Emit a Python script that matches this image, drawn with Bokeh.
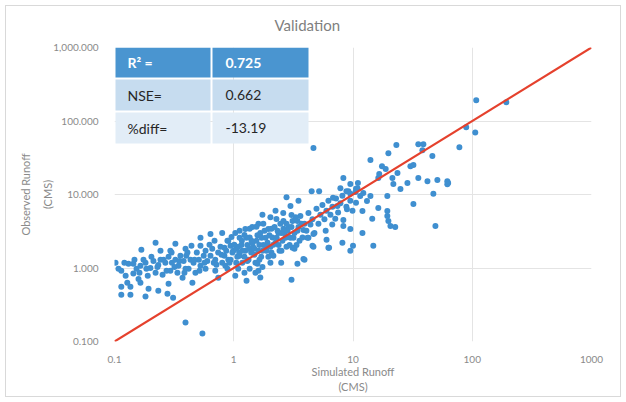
from bokeh.plotting import figure
from bokeh.models import FixedTicker, BoxAnnotation, Label, Range1d
from bokeh.embed import file_html
from bokeh.resources import INLINE

# Simulated (x) vs observed (y) runoff, CMS
sim_runoff = [
    0.102, 0.114, 0.131, 0.144, 0.168, 0.221, 0.324, 0.442, 0.526, 0.638, 0.80,
    0.114, 0.136, 0.114, 0.136, 0.165, 0.182, 0.193, 0.233, 0.278, 0.31, 0.284,
    0.372, 0.45, 0.742, 0.394, 0.546,
    0.153, 0.165, 0.182, 0.20, 0.212, 0.233, 0.243, 0.267, 0.284, 0.303, 0.324,
    0.344, 0.357, 0.38, 0.40, 0.418, 0.434, 0.46, 0.49, 0.51, 0.526, 0.56, 0.58,
    0.60, 0.638, 0.66, 0.68, 0.70, 0.74, 0.774, 0.80, 0.835, 0.865, 0.90, 0.94,
    0.975, 0.124, 0.144, 0.159, 0.19, 0.221, 0.253, 0.294, 0.337, 0.394, 0.477,
    0.58, 0.70, 0.85, 0.175, 0.243, 0.294, 0.394, 0.526, 0.69, 0.90,
    0.94, 0.99, 1.05, 1.09, 1.12, 1.17, 1.18, 1.25, 1.30, 1.33, 1.36, 1.40, 1.45,
    1.52, 1.55, 1.61, 1.67, 1.70, 1.77, 1.85, 1.88, 1.95, 2.03, 2.11, 2.15, 2.24,
    2.33, 2.42, 2.46, 2.56, 2.66, 2.77, 2.88, 2.99, 3.11, 3.23, 3.36, 3.49, 3.62,
    3.77, 3.92, 4.07, 4.23, 4.40, 4.57, 4.75, 4.94, 5.13, 5.33, 5.54, 5.76, 5.99,
    6.22, 6.47, 6.72, 7.2, 7.5, 7.84, 8.15, 8.8, 9.15, 9.5, 9.9, 10.6,
    1.09, 1.23, 1.36, 1.52, 1.74, 2.03, 1.03, 1.28, 1.61,
    1.03, 1.12, 1.25, 1.43, 1.61, 1.74, 2.03, 2.24, 2.6, 2.99, 3.49, 2.77,
    1.67, 3.05, 2.5, 3.42, 3.92, 1.58, 3.11, 4.57, 6.22, 8.15, 9.5, 5.9, 6.7,
    8.3, 4.15, 4.66,
    1.05, 1.11, 1.16, 1.23, 1.28, 1.35, 1.43, 1.49, 1.58, 1.64, 1.74, 1.81, 1.92,
    1.99, 2.07, 2.2, 2.29, 2.38, 2.51, 2.61, 2.72, 2.83, 2.94, 3.05, 3.17, 3.30,
    3.42, 3.56, 3.70, 3.84,
    4.66, 108, 193, 89, 106, 78, 23.1, 19.8, 14.0, 35.3, 38.9, 38.2, 46.3, 17.5,
    16.6, 16.3, 21.4, 23.6, 30.3, 32.1, 35.3, 42.1, 51, 61.8, 62.8, 61.8, 28.6,
    25.0, 21.8, 19.4, 16.3, 32.1, 47.2, 49.1, 19.4, 19.4, 19.8, 20.6, 22.6, 14.5,
    12.0, 14.8, 10.0, 8.3, 7.84, 8.8, 9.5, 10.5, 11.5, 12.2, 6.8, 7.4, 8.9, 7.1,
    8.3, 9.5, 12.0, 10.6, 13.1, 14.0, 10.9, 9.5, 11.0, 4.5, 5.2, 3.84, 6.3, 4.66,
    6.0, 4.23, 18.8,
    0.836, 0.885, 0.92, 0.958, 1.01, 1.07, 1.12, 1.18, 1.23, 1.30, 1.36, 1.41,
    1.49, 1.55, 1.64, 1.71, 1.77, 1.88, 1.95, 2.07, 2.15, 2.28, 2.37, 2.51, 2.61,
    2.77, 2.88, 3.05, 3.23, 3.42,
    0.108, 0.121, 0.128, 0.147, 0.162, 0.185, 0.204, 0.229, 0.258, 0.273, 0.301,
    0.318, 0.351, 0.386, 0.409, 0.469, 0.516, 0.568, 0.626, 0.716, 0.789, 0.885,
]
obs_runoff = [
    1.18, 0.92, 1.14, 1.14, 1.77, 2.2, 2.13, 2.0, 2.57, 2.91, 3.0,
    0.557, 0.557, 0.434, 0.434, 0.63, 0.41, 0.523, 0.49, 0.448, 0.395, 0.61,
    0.738, 0.63, 0.738, 0.181, 0.128,
    0.98, 1.07, 1.18, 1.0, 1.25, 1.1, 1.3, 1.18, 1.42, 1.18, 1.3,
    1.07, 1.47, 1.25, 1.47, 0.98, 1.3, 1.18, 1.62, 1.3, 1.07, 1.47, 1.71,
    1.25, 1.47, 1.83, 1.18, 1.3, 1.62, 1.95, 1.18, 1.47, 1.71, 1.3, 2.0,
    1.62, 0.785, 0.84, 0.71, 0.785, 0.86, 0.81, 0.92, 0.86, 0.98, 0.86,
    0.98, 0.92, 1.07, 1.3, 1.71, 1.71, 1.83, 2.0, 2.34, 2.34,
    1.3, 1.71, 1.18, 1.95, 1.47, 2.34, 1.18, 1.71, 2.06, 1.3, 2.6, 1.62, 1.95,
    1.18, 2.34, 1.71, 3.0, 1.42, 2.06, 2.57, 1.71, 3.4, 1.95, 2.6, 1.47, 2.2,
    3.2, 1.71, 4.0, 2.34, 3.0, 1.95, 3.6, 2.57, 4.37, 3.0, 2.06, 3.6, 5.1,
    2.6, 4.0, 3.2, 5.6, 3.9, 4.6, 3.0, 6.4, 4.0, 5.3, 7.2, 4.6, 6.0,
    8.2, 5.3, 6.8, 8.8, 5.7, 7.6, 9.6, 6.8, 11.1, 8.2, 6.0, 12.0,
    0.98, 0.86, 0.98, 0.86, 1.03, 1.18, 0.785, 0.67, 0.92,
    3.0, 2.57, 3.4, 3.6, 4.0, 5.3, 4.9, 6.0, 5.6, 7.0, 8.2, 9.2,
    0.74, 0.69, 1.18, 1.14, 1.29, 1.14, 1.88, 2.0, 1.88, 2.2, 1.71, 3.2, 3.9,
    4.5, 2.57, 2.9,
    1.83, 1.62, 2.06, 1.42, 2.57, 1.83, 2.2, 1.52, 2.8, 2.06, 1.71, 3.2, 2.2,
    2.8, 1.62, 3.6, 2.57, 2.06, 3.0, 4.37, 2.57, 3.2, 2.06, 3.6, 2.57, 4.9,
    3.2, 2.34, 4.0, 3.3,
    43, 191, 180, 82, 70, 44, 47, 36.5, 29.4, 48.4, 48.4, 40.1, 33.3, 24.3,
    19.0, 16.8, 16.8, 19.6, 24.3, 25.1, 16.8, 15.2, 15.7, 15.2, 14.3, 13.8, 14.3,
    11.9, 13.9, 9.55, 6.56, 7.43, 10.2, 3.74, 5.97, 5.11, 4.37, 3.74, 3.62, 4.67,
    3.0, 2.0, 2.0, 16.8, 12.2, 11.1, 10.2, 10.8, 9.55, 10.5, 9.0, 7.0, 6.3, 4.67,
    3.74, 3.4, 5.97, 7.7, 8.16, 9.55, 12.2, 13.9, 14.3, 11.1, 11.1, 1.33, 1.88, 1.94,
    2.42, 2.57, 22.2,
    1.88, 2.34, 1.18, 2.65, 2.07, 1.42, 3.2, 1.71, 2.82, 1.25, 3.41, 2.34,
    1.83, 3.63, 1.3, 2.57, 4.0, 1.95, 1.42, 3.41, 2.07, 4.65, 3.0, 1.71, 3.41,
    4.0, 2.65, 5.27, 1.83, 4.37,
    0.98, 1.18, 0.63, 1.3, 0.86, 0.98, 1.42, 1.03, 1.3, 0.92, 1.62,
    1.03, 1.25, 0.86, 1.62, 1.3, 0.92, 1.18, 2.07, 1.11, 1.52, 0.98,
]

x_ticks = [0.1, 1, 10, 100, 1000]
x_tick_labels = ["0.1", "1", "10", "100", "1000"]
y_ticks = [0.1, 1, 10, 100, 1000]
y_tick_labels = ["0.100", "1.000", "10.000", "100.000", "1,000.000"]

one_to_one_x = [0.1, 1000]
one_to_one_y = [0.1, 1000]

chart_title = "Validation"
stat_names = ["R\u00b2 =", "NSE=", "%diff="]
stat_values = ["0.725", "0.662", "-13.19"]

FONT = "Lato"
GREY = "#8a8a8a"

p = figure(width=626, height=402, x_axis_type="log", y_axis_type="log",
           x_range=Range1d(0.1, 1000), y_range=Range1d(0.1, 1000),
           output_backend="svg", toolbar_location=None,
           min_border_left=114, min_border_right=35,
           min_border_top=46, min_border_bottom=61)
p.outline_line_color = None
p.background_fill_color = "white"
p.border_fill_color = None
p.styles = {"background-color": "white",
            "box-shadow": "inset 0 0 0 5px white, inset 0 0 0 6px #d9d9d9"}

p.title.text = chart_title
p.title.align = "left"
p.title.offset = 160
p.title.standoff = 27
p.title.text_font = FONT
p.title.text_font_size = "15px"
p.title.text_font_style = "normal"
p.title.text_color = "#7f7f7f"

for ax, ticks, labels in ((p.xaxis[0], x_ticks, x_tick_labels), (p.yaxis[0], y_ticks, y_tick_labels)):
    ax.ticker = FixedTicker(ticks=ticks, minor_ticks=[])
    ax.major_label_overrides = dict(zip(ticks, labels))
    ax.axis_line_color = None
    ax.major_tick_line_color = None
    ax.minor_tick_line_color = None
    ax.major_label_text_font = FONT
    ax.major_label_text_font_size = "10px"
    ax.major_label_text_color = GREY
    ax.axis_label_text_font = FONT
    ax.axis_label_text_font_size = "11px"
    ax.axis_label_text_font_style = "normal"
    ax.axis_label_text_color = GREY

p.xaxis.axis_label = "Simulated Runoff\n(CMS)"
p.yaxis.axis_label = "Observed Runoff\n(CMS)"
p.xaxis.major_label_standoff = 8
p.yaxis.major_label_standoff = 10
p.xaxis.axis_label_standoff = -1
p.yaxis.axis_label_standoff = -4
p.yaxis.axis_label_text_line_height = 1.7

for g, ticks in ((p.xgrid[0], x_ticks), (p.ygrid[0], y_ticks)):
    g.ticker = FixedTicker(ticks=ticks, minor_ticks=[])
    g.grid_line_color = "#e4e4e4"
    g.grid_line_width = 1

p.scatter(sim_runoff, obs_runoff, size=6, color="#3f8fd0", line_color=None)
p.line(one_to_one_x, one_to_one_y, line_color="#e5412d", line_width=2.2)

# statistics table
row_bounds = [(47, 77), (79, 110), (112, 143)]
col_bounds = [(115, 210), (212, 308)]
row_fill = ["#4a95d0", "#c6dcef", "#e2edf7"]
row_text = ["white", "#262626", "#262626"]
for i, (t, b) in enumerate(row_bounds):
    for (l, r) in col_bounds:
        p.add_layout(BoxAnnotation(left=l, right=r, top=t, bottom=b,
                                   left_units="canvas", right_units="canvas",
                                   top_units="canvas", bottom_units="canvas",
                                   fill_color=row_fill[i], fill_alpha=1,
                                   line_color=None, level="overlay"))
    yc = (t + b) / 2
    for txt, xl in ((stat_names[i], 127), (stat_values[i], 225)):
        p.add_layout(Label(x=xl, y=yc, x_units="canvas", y_units="canvas",
                           text=txt, text_font=FONT, text_font_size="14px",
                           text_font_style="bold" if i == 0 else "normal",
                           text_color=row_text[i], text_baseline="middle",
                           text_align="left", level="overlay"))

open("out.html", "w").write(file_html(p, INLINE))
